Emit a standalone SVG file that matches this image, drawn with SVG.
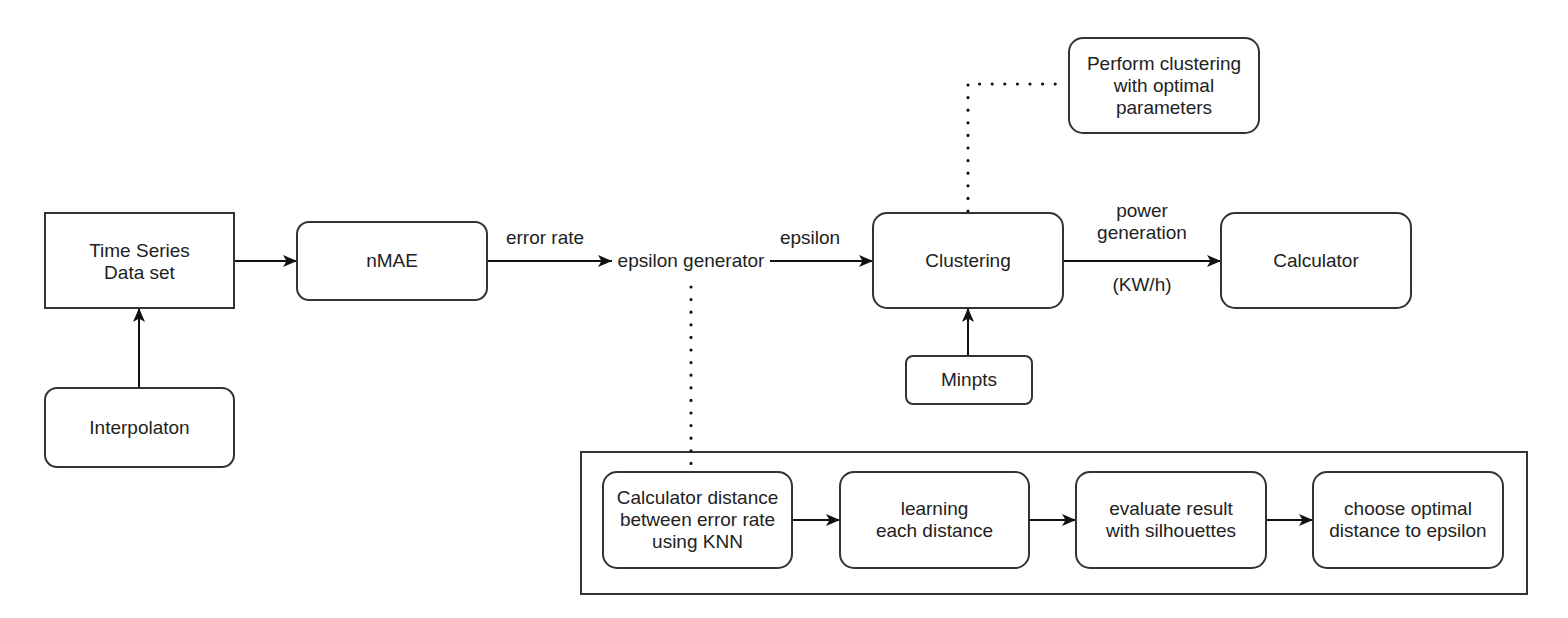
<svg xmlns="http://www.w3.org/2000/svg" width="1568" height="618" viewBox="0 0 1568 618">
<style>
.box{fill:#fff;stroke:#333;stroke-width:2}
.t{font-family:"Liberation Sans",Arial,sans-serif;font-size:19px;fill:#222;text-anchor:middle}
.edge{fill:none;stroke:#111;stroke-width:2}
.dot{fill:none;stroke:#111;stroke-width:3.2;stroke-linecap:round;stroke-dasharray:0 12.6}
</style>
<defs>
<marker id="arr" markerUnits="userSpaceOnUse" markerWidth="16" markerHeight="16" viewBox="0 0 16 16" refX="15" refY="8" orient="auto">
<path d="M1,2 L15,8 L1,14 L4.5,8 Z" fill="#111"/>
</marker>
</defs>
<rect width="1568" height="618" fill="#fff"/>
<g id="container">
<rect x="581" y="452" width="946" height="142" fill="none" stroke="#333" stroke-width="2"/>
</g>
<g id="connectors">
<line class="edge" x1="234" y1="261" x2="297" y2="261" marker-end="url(#arr)"/>
<line class="edge" x1="139" y1="388" x2="139" y2="308" marker-end="url(#arr)"/>
<line class="edge" x1="487" y1="261" x2="612" y2="261" marker-end="url(#arr)"/>
<line class="edge" x1="770" y1="261" x2="873" y2="261" marker-end="url(#arr)"/>
<line class="edge" x1="1063" y1="261" x2="1221" y2="261" marker-end="url(#arr)"/>
<line class="edge" x1="968" y1="356" x2="968" y2="308" marker-end="url(#arr)"/>
<line class="edge" x1="792" y1="520" x2="840" y2="520" marker-end="url(#arr)"/>
<line class="edge" x1="1029" y1="520" x2="1076" y2="520" marker-end="url(#arr)"/>
<line class="edge" x1="1266" y1="520" x2="1313" y2="520" marker-end="url(#arr)"/>
<path class="dot" d="M691,287 L691,466"/>
<path class="dot" d="M968,211 L968,84 L1067,84"/>
<text class="t" x="545" y="244">error rate</text>
<text class="t" x="810" y="244">epsilon</text>
<text class="t" x="1142" y="217">power</text>
<text class="t" x="1142" y="239">generation</text>
<text class="t" x="1142" y="291">(KW/h)</text>
</g>
<g id="timeseries">
<rect class="box" x="45" y="213" width="189" height="95"/>
<text class="t" x="139.5" y="257">Time Series</text>
<text class="t" x="139.5" y="279">Data set</text>
</g>
<g id="interpolation">
<rect class="box" x="45" y="388" width="189" height="79" rx="12"/>
<text class="t" x="139.5" y="434">Interpolaton</text>
</g>
<g id="nmae">
<rect class="box" x="297" y="222" width="190" height="78" rx="12"/>
<text class="t" x="392" y="267">nMAE</text>
</g>
<g id="epsilon-generator">
<text class="t" x="691" y="267">epsilon generator</text>
</g>
<g id="clustering">
<rect class="box" x="873" y="213" width="190" height="95" rx="14"/>
<text class="t" x="968" y="267">Clustering</text>
</g>
<g id="perform">
<rect class="box" x="1069" y="38" width="190" height="95" rx="14"/>
<text class="t" x="1164" y="70">Perform clustering</text>
<text class="t" x="1164" y="92">with optimal</text>
<text class="t" x="1164" y="114">parameters</text>
</g>
<g id="calculator">
<rect class="box" x="1221" y="213" width="190" height="95" rx="14"/>
<text class="t" x="1316" y="267">Calculator</text>
</g>
<g id="minpts">
<rect class="box" x="906" y="356" width="126" height="48" rx="7"/>
<text class="t" x="969" y="386">Minpts</text>
</g>
<g id="knn">
<rect class="box" x="603" y="472" width="189" height="96" rx="14"/>
<text class="t" x="697.5" y="504">Calculator distance</text>
<text class="t" x="697.5" y="526">between error rate</text>
<text class="t" x="697.5" y="548">using KNN</text>
</g>
<g id="learning">
<rect class="box" x="840" y="472" width="189" height="96" rx="14"/>
<text class="t" x="934.5" y="515">learning</text>
<text class="t" x="934.5" y="537">each distance</text>
</g>
<g id="evaluate">
<rect class="box" x="1076" y="472" width="190" height="96" rx="14"/>
<text class="t" x="1171" y="515">evaluate result</text>
<text class="t" x="1171" y="537">with silhouettes</text>
</g>
<g id="choose">
<rect class="box" x="1313" y="472" width="190" height="96" rx="14"/>
<text class="t" x="1408" y="515">choose optimal</text>
<text class="t" x="1408" y="537">distance to epsilon</text>
</g>
</svg>
